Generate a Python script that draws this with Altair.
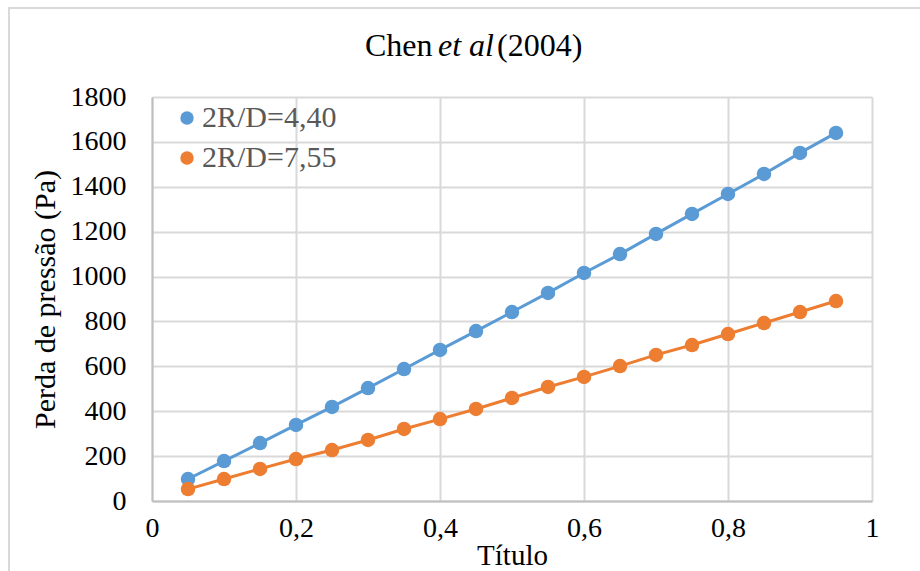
import altair as alt
import pandas as pd

# Título (vapor quality) values along the x axis
titulo = [0.05, 0.10, 0.15, 0.20, 0.25, 0.30, 0.35, 0.40, 0.45, 0.50,
          0.55, 0.60, 0.65, 0.70, 0.75, 0.80, 0.85, 0.90, 0.95]

# Pressure drop (Pa) for each curvature ratio
perda_440 = [98, 178, 258, 339, 419, 503, 588, 673, 757, 842,
             927, 1016, 1100, 1190, 1279, 1368, 1457, 1551, 1640]
perda_755 = [53, 98, 143, 187, 227, 272, 321, 365, 410, 459,
             508, 553, 601, 651, 695, 744, 793, 842, 891]

series = ["2R/D=4,40", "2R/D=7,55"]
colors = ["#5B9BD5", "#ED7D31"]

x_ticks = [0, 0.2, 0.4, 0.6, 0.8, 1.0]
y_ticks = [0, 200, 400, 600, 800, 1000, 1200, 1400, 1600, 1800]

df = pd.DataFrame({
    "Título": titulo * 2,
    "Perda": perda_440 + perda_755,
    "Série": [series[0]] * len(titulo) + [series[1]] * len(titulo),
})

FONT = "Liberation Serif"
W, H = 720, 404

x_enc = alt.X(
    "Título:Q",
    scale=alt.Scale(domain=[0, 1], nice=False),
    axis=alt.Axis(
        values=x_ticks,
        labelExpr="replace(format(datum.value, '~g'), '.', ',')",
        labelFlush=False,
        title="Título",
        titleFontSize=29,
        titleY=63,
        titleBaseline="alphabetic",
        titleFontWeight="normal",
    ),
)
y_enc = alt.Y(
    "Perda:Q",
    scale=alt.Scale(domain=[0, 1800], nice=False),
    axis=alt.Axis(
        values=y_ticks,
        format="d",
        title="Perda de pressão (Pa)",
        titleFontSize=30,
        titleX=-107,
        titleY=H / 2,
        titleAlign="center",
        titleBaseline="middle",
        titleFontWeight="normal",
    ),
)

legend = alt.Legend(
    title=None,
    orient="none",
    legendX=20,
    legendY=6,
    symbolType="circle",
    symbolSize=180,
    symbolStrokeWidth=0,
    labelFont=FONT,
    labelFontSize=30,
    labelColor="#595959",
    labelOffset=0,
    rowPadding=10,
    padding=0,
)
color_enc = alt.Color(
    "Série:N",
    scale=alt.Scale(domain=series, range=colors),
    legend=legend,
)

lines = alt.Chart(df).mark_line(strokeWidth=3).encode(
    x=x_enc, y=y_enc, color=color_enc, detail="Série:N",
)
points = alt.Chart(df).mark_circle(size=210, opacity=1).encode(
    x=x_enc, y=y_enc, color=color_enc,
)

# Chart title, with "et al" set in italics
TITLE_SIZE = 32
title_df = pd.DataFrame({"t": ["Chen"]})
t1 = alt.Chart(title_df).mark_text(
    text="Chen", font=FONT, fontSize=TITLE_SIZE, align="left", baseline="middle", color="#000000"
).encode(x=alt.value(213), y=alt.value(-51))
t2 = alt.Chart(title_df).mark_text(
    text="et al", font=FONT, fontSize=TITLE_SIZE, fontStyle="italic", align="left", baseline="middle", color="#000000"
).encode(x=alt.value(286), y=alt.value(-51))
t3 = alt.Chart(title_df).mark_text(
    text="(2004)", font=FONT, fontSize=TITLE_SIZE, align="left", baseline="middle", color="#000000"
).encode(x=alt.value(345), y=alt.value(-51))

# Outer chart frame
frame = alt.Chart(title_df).mark_rect(
    fill=None, stroke="#d9d9d9", strokeWidth=2
).encode(x=alt.value(-143), x2=alt.value(W + 200), y=alt.value(-89), y2=alt.value(H + 200))

chart = (
    alt.layer(frame, lines, points, t1, t2, t3)
    .properties(
        width=W,
        height=H,
        autosize=alt.AutoSizeParams(type="none"),
        padding={"left": 152, "top": 97, "right": 48, "bottom": 70},
        background="white",
    )
    .configure_view(stroke=None)
    .configure_axis(
        labelFont=FONT,
        labelFontSize=28,
        labelColor="#000000",
        titleFont=FONT,
        titleColor="#000000",
        gridColor="#d9d9d9",
        gridWidth=2,
        domainColor="#bfbfbf",
        domainWidth=2,
        ticks=False,
    )
    .configure_axisX(labelPadding=13)
    .configure_axisY(labelPadding=26)
)

chart.save("out.html", embed_options={"renderer": "svg", "actions": False})
